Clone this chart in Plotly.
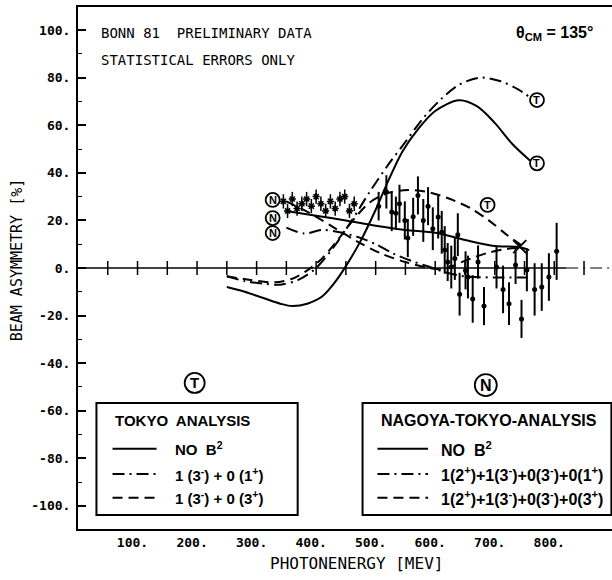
import plotly.graph_objects as go

# ---------------- data ----------------
# Tokyo analysis curves (energy in MeV, asymmetry in %)
tokyo_solid_E = [250, 280, 310, 340, 360, 385, 410, 430, 450, 475, 500, 520, 545, 570, 600, 640, 670, 700, 730, 760]
tokyo_solid_A = [-8, -10, -12.5, -15, -16, -15, -12, -6.5, 0.8, 11.5, 24.5, 36, 49, 58, 66, 70.5, 68, 61, 52, 45]

tokyo_dashdot_E = [250, 280, 310, 340, 370, 400, 430, 460, 490, 520, 550, 580, 610, 640, 675, 710, 740, 760]
tokyo_dashdot_A = [-3.5, -5.5, -6.5, -7, -5, 0, 9, 20, 32, 43, 53, 63, 71, 77, 80, 78.5, 75, 71.5]

tokyo_dashed_E = [250, 290, 330, 360, 385, 410, 440, 465, 490, 520, 555, 590, 630, 660, 690, 720, 745]
tokyo_dashed_A = [-3.5, -5, -6, -4.5, -1, 4, 13, 21, 27.5, 31.5, 32.8, 31.8, 28.5, 25, 20, 14, 9.5]

# Nagoya-Tokyo analysis curves
nagoya_solid_E = [350, 400, 450, 500, 550, 600, 650, 700, 740, 758]
nagoya_solid_A = [24, 22, 20, 17.8, 16, 14.8, 11.8, 9.2, 8.8, 7.5]

nagoya_dashdot_E = [350, 380, 410, 440, 470, 500, 530, 560, 590, 620, 650, 700, 755]
nagoya_dashdot_A = [17, 14.5, 16, 15, 13, 10, 6, 3, 0.5, -2, -3.5, -4, -4]

nagoya_dashed_E = [350, 390, 430, 470, 510, 550, 590, 615, 635, 660, 690, 720, 745]
nagoya_dashed_A = [28, 23, 17, 11, 6, 2.5, 0, -0.5, 1.5, 4, 6.5, 8, 8.5]

# Bonn 81 preliminary data, low-energy group
low_E = [345, 352, 360, 368, 376, 384, 392, 400, 408, 416, 424, 432, 440, 448, 456, 464]
low_A = [28, 24, 29, 25, 27, 29, 26, 30, 27, 24, 28, 25, 29, 30, 24, 27]
low_err = [3, 3, 3, 3, 3, 3, 3, 3, 3, 3, 3, 3, 3, 3, 3, 3]

# Bonn 81 preliminary data, high-energy group
data_E = [505, 518, 527, 534, 540, 549, 554, 563, 571, 580, 588, 596, 605, 611, 616, 621, 627, 633, 638,
          641, 651, 655, 663, 672, 682, 703, 714, 724, 735, 745, 754, 767, 779, 791, 804]
data_A = [26, 32, 23.5, 23, 27, 20, 12.6, 21.5, 30.5, 20, 26, 16.5, 21.4, 15, 7.6, 2.5, 0.4, 4, 14,
          -11, -1, -3.8, -13, 2.5, -16, 0.4, -9, -15, 1.3, -21.4, -0.8, -9, -8, -3.8, 7]
data_err = [6, 7, 8, 7, 8, 8, 8, 8, 8, 9, 8, 9, 9, 9, 10, 8, 9, 9, 9,
            9, 8, 9, 10, 7, 8, 9, 10, 9, 8, 8, 9, 11, 10, 10, 12]

# crossing mark
cross_E = [742]
cross_A = [9]

# axis tick values / labels
y_ticks = [-100, -80, -60, -40, -20, 0, 20, 40, 60, 80, 100]
y_labels = [f"{v}." for v in y_ticks]
x_ticks = [100, 200, 300, 400, 500, 600, 700, 800]
x_labels = [f"{v}." for v in x_ticks]
zero_line_ticks = [50, 100, 150, 200, 250, 300, 350, 400, 450, 500, 550, 600, 650, 700, 750, 800, 850]

# legend entries
tokyo_legend = ["NO  B<sup>2</sup>", "1 (3<sup>-</sup>) + 0 (1<sup>+</sup>)", "1 (3<sup>-</sup>) + 0 (3<sup>+</sup>)"]
nagoya_legend = ["NO  B<sup>2</sup>",
                 "1(2<sup>+</sup>)+1(3<sup>-</sup>)+0(3<sup>-</sup>)+0(1<sup>+</sup>)",
                 "1(2<sup>+</sup>)+1(3<sup>-</sup>)+0(3<sup>-</sup>)+0(3<sup>+</sup>)"]

# ---------------- figure ----------------
DASHDOT = "12px,5px,2px,5px"
DASHED = "10px,6px"
styles = ["solid", DASHDOT, DASHED]

fig = go.Figure()


def curve(E, A, dash):
    fig.add_trace(go.Scatter(x=E, y=A, mode="lines",
                             line=dict(color="black", width=2, dash=dash, shape="spline", smoothing=0.9),
                             hoverinfo="skip", showlegend=False))


curve(tokyo_solid_E, tokyo_solid_A, "solid")
curve(tokyo_dashdot_E, tokyo_dashdot_A, DASHDOT)
curve(tokyo_dashed_E, tokyo_dashed_A, DASHED)
curve(nagoya_solid_E, nagoya_solid_A, "solid")
curve(nagoya_dashdot_E, nagoya_dashdot_A, DASHDOT)
curve(nagoya_dashed_E, nagoya_dashed_A, DASHED)

# zero line ticks
fig.add_trace(go.Scatter(x=zero_line_ticks, y=[0] * len(zero_line_ticks), mode="markers",
                         marker=dict(symbol="line-ns", size=10, line=dict(color="black", width=1.5)),
                         hoverinfo="skip", showlegend=False))

# data points
fig.add_trace(go.Scatter(x=low_E, y=low_A, mode="markers",
                         error_y=dict(type="data", array=low_err, color="black", thickness=1.5, width=0),
                         marker=dict(symbol="asterisk", size=6, color="black", line=dict(color="black", width=1.5)),
                         hoverinfo="skip", showlegend=False))
fig.add_trace(go.Scatter(x=data_E, y=data_A, mode="markers",
                         error_y=dict(type="data", array=data_err, color="black", thickness=2, width=0),
                         marker=dict(symbol="circle", size=5, color="black"),
                         hoverinfo="skip", showlegend=False))
fig.add_trace(go.Scatter(x=cross_E, y=cross_A, mode="markers",
                         marker=dict(symbol="x-thin", size=13, line=dict(color="black", width=2)),
                         hoverinfo="skip", showlegend=False))

shapes = []
annotations = []

# zero line: solid then dash-dot continuation
shapes.append(dict(type="line", xref="x", yref="y", x0=0, x1=820, y0=0, y1=0,
                   line=dict(color="black", width=1.5), layer="below"))
shapes.append(dict(type="line", xref="x", yref="y", x0=820, x1=900, y0=0, y1=0,
                   line=dict(color="black", width=1.2, dash=DASHDOT), layer="below"))


def circ_label(E, A, letter, r, fsize):
    shapes.append(dict(type="circle", xref="x", yref="y", xsizemode="pixel", ysizemode="pixel",
                       xanchor=E, yanchor=A, x0=-r, x1=r, y0=-r, y1=r,
                       line=dict(color="black", width=1.8), fillcolor="white"))
    annotations.append(dict(x=E, y=A, xref="x", yref="y", text=f"<b>{letter}</b>", showarrow=False,
                            font=dict(family="Liberation Sans", size=fsize, color="black"),
                            xanchor="center", yanchor="middle"))


for (E, A) in [(771, 70.6), (771, 44), (688, 26.5)]:
    circ_label(E, A, "T", 7, 11)
for (E, A) in [(327, 28.6), (327, 21), (327, 14.7)]:
    circ_label(E, A, "N", 7, 11)
circ_label(196, -48.3, "T", 10, 15)
circ_label(685, -49.2, "N", 11, 16)

# legend boxes
shapes.append(dict(type="rect", xref="x", yref="y", x0=31, x1=369, y0=-103.8, y1=-56.7,
                   line=dict(color="black", width=2), fillcolor="white"))
shapes.append(dict(type="rect", xref="x", yref="y", x0=478, x1=896, y0=-103.8, y1=-56.7,
                   line=dict(color="black", width=2), fillcolor="white"))

rows_A = [-76, -86.6, -96.6]
annotations.append(dict(x=58, y=-63.9, xref="x", yref="y", text="<b>TOKYO  ANALYSIS</b>", showarrow=False,
                        xanchor="left", yanchor="middle",
                        font=dict(family="Liberation Sans", size=15, color="black")))
annotations.append(dict(x=505, y=-63.9, xref="x", yref="y", text="<b>NAGOYA-TOKYO-ANALYSIS</b>", showarrow=False,
                        xanchor="left", yanchor="middle",
                        font=dict(family="Liberation Sans Narrow, Liberation Sans", size=16, color="black")))
for i, A in enumerate(rows_A):
    shapes.append(dict(type="line", xref="x", yref="y", x0=58, x1=132, y0=A, y1=A,
                       line=dict(color="black", width=2, dash=styles[i])))
    annotations.append(dict(x=160, y=A, xref="x", yref="y", text=f"<b>{tokyo_legend[i]}</b>", showarrow=False,
                            xanchor="left", yanchor="middle",
                            font=dict(family="Liberation Sans", size=15, color="black")))
    shapes.append(dict(type="line", xref="x", yref="y", x0=503, x1=588, y0=A, y1=A,
                       line=dict(color="black", width=2, dash=styles[i])))
    annotations.append(dict(x=606, y=A, xref="x", yref="y", text=f"<b>{nagoya_legend[i]}</b>", showarrow=False,
                            xanchor="left", yanchor="middle",
                            font=dict(family="Liberation Sans Narrow, Liberation Sans", size=16, color="black")))

# plot texts
annotations.append(dict(x=36, y=98.7, xref="x", yref="y", text="BONN 81  PRELIMINARY DATA", showarrow=False,
                        xanchor="left", yanchor="middle",
                        font=dict(family="DejaVu Sans Mono", size=14, color="black")))
annotations.append(dict(x=36, y=87.4, xref="x", yref="y", text="STATISTICAL ERRORS ONLY", showarrow=False,
                        xanchor="left", yanchor="middle",
                        font=dict(family="DejaVu Sans Mono", size=14, color="black")))
annotations.append(dict(x=733, y=98.5, xref="x", yref="y", text="<b>θ<sub>CM</sub> = 135°</b>", showarrow=False,
                        xanchor="left", yanchor="middle",
                        font=dict(family="Liberation Sans", size=16, color="black")))

# axis titles
annotations.append(dict(x=-0.114, y=0.515, xref="paper", yref="paper", text="BEAM ASYMMETRY [%]",
                        showarrow=False, textangle=-90, xanchor="center", yanchor="middle",
                        font=dict(family="DejaVu Sans Mono", size=15, color="black")))
annotations.append(dict(x=0.522, y=-0.066, xref="paper", yref="paper", text="PHOTONENERGY [MEV]",
                        showarrow=False, xanchor="center", yanchor="middle",
                        font=dict(family="DejaVu Sans Mono", size=16, color="black")))

tickfont = dict(family="DejaVu Sans Mono", size=13, color="black", weight="bold")

fig.update_layout(
    width=612, height=580,
    margin=dict(l=78, r=0, t=7, b=51),
    paper_bgcolor="white", plot_bgcolor="white",
    showlegend=False,
    shapes=shapes, annotations=annotations,
    xaxis=dict(range=[0, 897], tickvals=x_ticks, ticktext=x_labels, ticks="", showgrid=False,
               zeroline=False, showline=True, linecolor="black", linewidth=2, mirror=True,
               tickfont=tickfont, ticklabelshift=-5, ticklabelstandoff=0),
    yaxis=dict(range=[-109.7, 109.7], tickvals=y_ticks, ticktext=y_labels, ticks="inside",
               ticklen=8, tickwidth=1.5, tickcolor="black", showgrid=False, zeroline=False,
               showline=True, linecolor="black", linewidth=2,
               minor=dict(dtick=10, ticks="inside", ticklen=4, tickwidth=1.2, tickcolor="black", showgrid=False),
               tickfont=tickfont, ticklabelstandoff=3),
)

fig.write_html("out.html")
